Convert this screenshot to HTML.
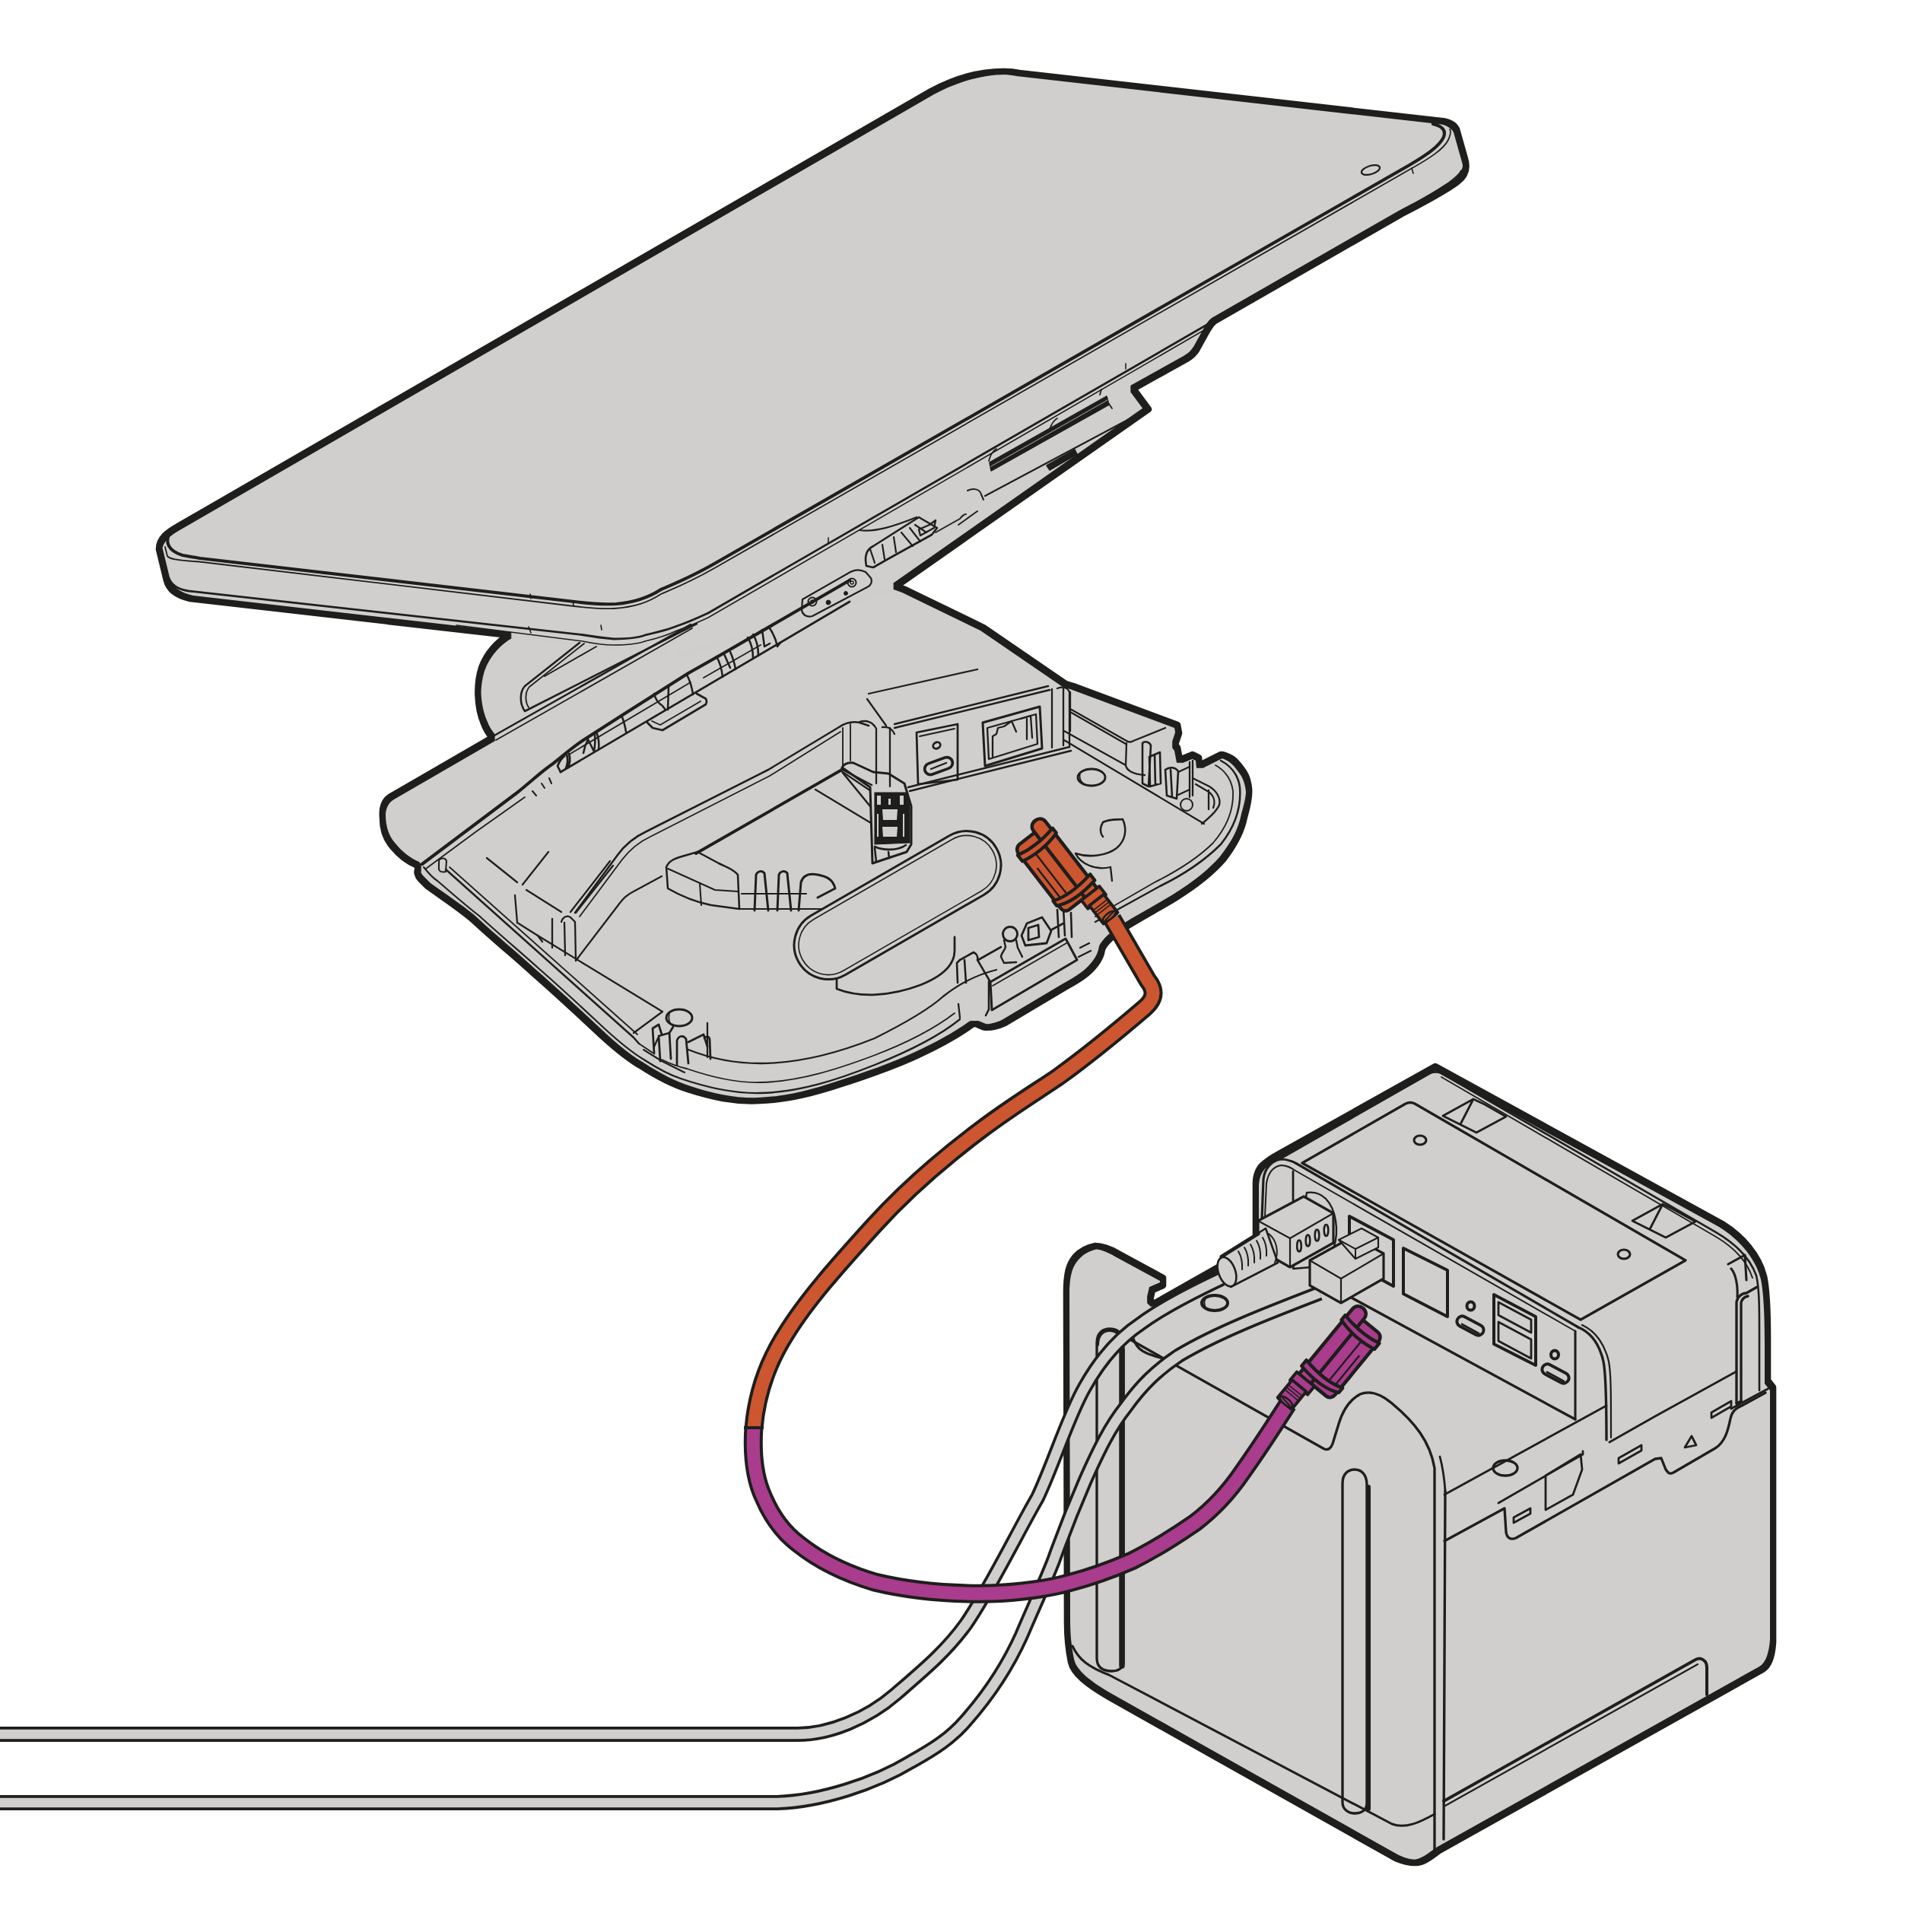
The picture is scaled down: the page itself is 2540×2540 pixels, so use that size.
<!DOCTYPE html>
<html><head><meta charset="utf-8"><title>Tablet stand and printer connection</title>
<style>
html,body{margin:0;padding:0;background:#fff;}
body{width:2540px;height:2540px;overflow:hidden;font-family:"Liberation Sans",sans-serif;}
svg{display:block;}
</style></head><body>
<svg xmlns="http://www.w3.org/2000/svg" width="2540" height="2540" viewBox="0 0 2540 2540">
<defs>
<filter id="er" x="0" y="0" width="2540" height="2540" filterUnits="userSpaceOnUse"><feMorphology operator="erode" radius="4.3"/></filter>
<path id="T" d="M 234,692 L 1224,120 C 1252,105 1287,93 1323,94 C 1330,94 1335,95 1340,96 L 1895,159 C 1905,160 1912,164 1915,170 L 1926,209 C 1929,219 1928,230 1916,239 C 1900,251 1880,262 1843,281 L 1597,422 C 1592,426 1590,430 1588,433 L 1573,460 C 1569,466 1565,469 1560,472 L 1490,511 L 1510,538 L 1175,773 L 900,860 L 669,835 L 250,787 C 232,783 222,775 219,763 L 209,722 C 209,708 220,700 234,692 Z"/>
<path id="B" d="M 669,835 C 655,843 640,858 633,878 C 626,900 627,930 636,951 C 639,959 643,965 647,970 L 514,1047 C 505,1052 502,1062 503,1075 C 503,1092 508,1104 516,1113 C 525,1124 535,1132 547,1137 L 550,1141 C 547,1146 549,1152 553,1156 L 562,1165 C 590,1185 610,1198 624,1211 C 650,1235 680,1260 702,1280 C 725,1300 750,1323 780,1351 C 800,1370 820,1388 842,1401 C 865,1416 885,1426 904,1432 C 935,1442 965,1449 1000,1447 C 1035,1446 1070,1437 1103,1426 C 1140,1414 1175,1402 1207,1387 C 1235,1374 1260,1360 1278,1347 C 1282,1344 1286,1348 1292,1350 C 1300,1352 1312,1349 1321,1345 L 1400,1298 C 1420,1287 1432,1279 1440,1268 C 1445,1262 1448,1255 1449,1248 C 1452,1240 1465,1228 1478,1220 C 1500,1206 1525,1193 1546,1180 C 1575,1162 1595,1145 1608,1130 C 1622,1112 1632,1095 1636,1074 C 1640,1060 1643,1048 1642,1037 C 1641,1027 1638,1018 1633,1012 C 1628,1005 1624,1000 1619,997 C 1614,994 1610,992 1605,992 L 1577,1006 L 1576,996 L 1568,992 L 1551,999 L 1548,983 L 1545,979 L 1550,964 L 1548,953 L 1411,902 L 1401,899 L 1293,825 L 1190,775 L 1165,766 L 1100,770 L 669,835 Z"/>
<path id="P" d="M 1887,1402 L 2264,1609 C 2290,1625 2312,1650 2319,1678 C 2322,1692 2324,1720 2324,1760 L 2324,1815 L 2331,1824 L 2331,2159 C 2330,2175 2326,2190 2317,2195 L 1892,2433 C 1882,2440 1872,2449 1861,2449 C 1850,2449 1842,2446 1835,2443 L 1458,2231 C 1430,2215 1411,2200 1408,2185 C 1404,2165 1403,2150 1403,2133 L 1402,1700 C 1402,1675 1405,1662 1414,1652 C 1422,1643 1430,1640 1440,1638 C 1450,1638 1460,1642 1470,1648 L 1529,1680 L 1529,1690 L 1515,1696 L 1512,1709 L 1517,1714 L 1651,1638 L 1651,1556 C 1651,1545 1655,1535 1662,1530 C 1668,1525 1674,1521 1678,1519 Z"/>
</defs>

<g fill="#1e1e1c" stroke="#1e1e1c" stroke-width="8.6" stroke-linejoin="round">
<use href="#B"/><use href="#T"/><use href="#P"/>
</g>
<g fill="#d0cfcd" filter="url(#er)">
<use href="#B"/><use href="#T"/><use href="#P"/>
</g>

<g fill="none" stroke="#1e1e1c" stroke-linejoin="round" stroke-linecap="round">
<!-- face boundary -->
<path stroke-width="4.2" d="M 222,703 C 218,712 220,724 240,730 L 263,734 L 755,791 C 770,793 790,795 810,794 C 835,792 852,786 869,775 C 890,766 910,758 941,740 L 1853,217 C 1875,204 1893,192 1898,180 C 1901,172 1897,166 1884,163"/>
<!-- bezel -->
<path stroke-width="1.8" d="M 217,719 L 220,731 C 222,735 235,737 262,738.5 L 755,797 C 772,799 790,801 807,800 C 835,798 852,792 869,781 C 890,772 910,764 941,746 L 1853,223 C 1880,208 1898,196 1904,184 C 1907,177 1908,172 1906,170"/>
<!-- side bottom edge -->
<path stroke-width="2.8" d="M 222,760 C 226,770 234,775 248,777 L 765,834.5 C 780,837 795,839 807,840 C 825,840 840,838 848,835 C 865,831 878,828 890,823 C 905,818 918,812 931,806 L 1000,766 L 1597,421"/>
<!-- bottom bevel -->
<path stroke-width="1.6" d="M 600,822 L 766,843 C 780,846 795,848 807,848 C 825,848 840,846 848,843 C 865,839 878,835 890,829 C 905,824 918,818 931,812 L 1000,772 L 1590,430"/>
<path stroke-width="1.6" d="M 1843,276 C 1870,262 1890,250 1905,240 C 1914,233 1919,229 1921,224"/>
<!-- small ticks -->
<path stroke-width="1.6" d="M 697,781 l 1,6 M 753,790 l 1,6 M 790,822 l 1,6 M 695,824 l 3,8 M 1089,707 l 0,7 M 1480,478 l 0,7 M 1856,221 l 2,7"/>
<!-- camera hole -->
<ellipse cx="1802" cy="223.5" rx="12.5" ry="5.5" transform="rotate(-17 1802 223.5)" stroke-width="2.2"/>
<!-- right side: tablet bottom near stand -->

<!-- stand arm lines under tablet -->
<path stroke-width="2.2" d="M 1295,652 L 1490,548"/>
<path stroke-width="2" d="M 1272,645 C 1280,641 1288,643 1290,650 L 1293,657"/>
<path fill="#1e1e1c" stroke-width="1.5" d="M 1301,608 L 1455,521 L 1458,532 L 1303,619 Z"/>
<path stroke="#d0cfcd" stroke-width="0.8" d="M 1303,613 L 1456,526"/>
<path stroke-width="1.8" d="M 1300,606 C 1302,598 1305,593 1310,590 M 1380,564 C 1383,556 1386,552 1390,550 M 1446,519 L 1448,512 M 1458,531 L 1462,537"/>
<path fill="#1e1e1c" stroke-width="1.5" d="M 1376,612 L 1413,591 L 1416,597 L 1380,618 Z"/>
<path stroke-width="2" d="M 1260,690 L 1285,672 M 1230,700 L 1262,682 C 1265,678 1268,676 1270,676"/>
<path stroke-width="2.4" d="M 1208,696 L 1222,690 L 1230,684 L 1228,694 L 1210,704 Z"/>
<path stroke-width="2.6" d="M 1139,744 C 1136,730 1140,722 1148,718 L 1208,680 L 1232,694 L 1225,703 L 1169,734 L 1148,746 Z"/>
<path stroke-width="2.2" d="M 1144,722 L 1150,740 M 1160,716 L 1163,735 M 1175,706 L 1178,726 M 1185,700 L 1200,718 M 1196,694 L 1210,712 M 1203,690 L 1218,700 M 1130,697 C 1150,700 1175,692 1205,680"/>
<!-- hinge plate w/ screws -->
<path stroke-width="2.2" d="M 1055,788 L 1118,752 C 1125,748 1132,749 1138,752 L 1145,760 C 1147,765 1145,770 1140,772 L 1068,810 C 1060,812 1055,808 1054,802 Z"/>
<circle cx="1068" cy="791" r="5.5" stroke-width="2"/><circle cx="1068" cy="791" r="2" stroke-width="1.5"/>
<circle cx="1120" cy="766" r="5.5" stroke-width="2"/><circle cx="1120" cy="766" r="2" stroke-width="1.5"/>
<circle cx="1089" cy="792" r="3" fill="#1e1e1c" stroke-width="1"/>
<circle cx="1112" cy="780" r="2.5" fill="#1e1e1c" stroke-width="1"/>
<!-- neck recess inner face -->
<path stroke-width="2" d="M 784,850 L 716,889"/>
</g>

<g fill="none" stroke="#1e1e1c" stroke-linejoin="round" stroke-linecap="round">
<!-- neck inner recess -->
<path stroke-width="2.53" d="M 762,845 L 690,902 C 683,910 683,925 690,935 L 916,820"/>
<path stroke-width="1.84" d="M 768,846 L 696,903 C 690,910 690,922 695,930"/>
<!-- flap top edge continuing (double) -->
<path stroke-width="2.53" d="M 648,968 L 908,821"/>
<path stroke-width="1.84" d="M 652,973 L 910,826"/>
<!-- fold / hinge barrel -->
<path stroke-width="4.2" d="M 555,1136 L 680,1042 C 700,1026 712,1014 727,1004 C 742,992 752,983 767,973 L 820,939 L 905,885 L 944,863 L 1117,763"/>
<path stroke-width="1.84" d="M 560,1142 L 625,1094 L 690,1048"/>
<path stroke-width="2.76" d="M 737,1015 L 1117,791"/>
<path stroke-width="1.84" d="M 748,992 L 908,897 M 925,891 L 1000,848"/>
<path stroke-width="2.76" d="M 737,1015 L 733,1007 C 736,1000 739,996 742,994 M 744,1010 C 746,1005 747,998 745,992 M 747,1009 C 749,1004 750,997 748,991"/>
<path stroke-width="2.53" d="M 767,990 C 768,984 770,978 773,972 L 781,988 C 782,982 783,976 782,966 M 787,985 C 788,978 787,970 784,962"/>
<path stroke-width="2.53" d="M 817,940 C 820,948 822,955 823,962"/>
<path stroke-width="2.53" d="M 860,912 C 862,920 866,925 871,928 L 874,932 M 879,903 L 878,933"/>
<path stroke-width="2.53" d="M 903,887 C 907,895 910,905 911,913"/>
<path stroke-width="2.53" d="M 942,863 C 947,872 949,880 950,890 M 952,860 L 960,878 M 960,857 C 964,866 966,873 967,880"/>
<path stroke-width="2.76" d="M 851,950 L 858,957 L 871,960 L 928,926 C 930,922 929,918 925,917 L 916,912"/>
<path stroke-width="1.84" d="M 857,948 L 868,953 L 921,922"/>
<path stroke-width="2.53" d="M 983,838 C 988,846 990,855 990,865 M 990,834 C 995,842 997,851 997,862 M 1002,828 L 1005,850 L 1012,846 M 1012,826 C 1016,832 1020,840 1022,850 L 1026,845"/>
<path stroke-width="2.07" d="M 700,1040 L 705,1046 M 712,1030 L 716,1036 M 722,1023 L 725,1030"/>
<!-- plateau ridge (double) -->
<path stroke-width="2.53" d="M 756,1200 L 812,1124 C 822,1110 835,1100 850,1093 L 1010,1012 L 1103,956 C 1112,950 1120,948 1130,950 L 1142,954"/>
<path stroke-width="1.84" d="M 762,1205 L 818,1130 C 828,1117 840,1107 855,1100 L 1012,1020 L 1105,962"/>
<path stroke-width="1.84" d="M 1108,957 L 1108,1008 M 1118,952 L 1118,1000"/>
<!-- inner ramp thick line -->
<path stroke-width="3.91" d="M 915,1122 L 1105,1013"/>
<path stroke-width="2.3" d="M 1072,1038 L 1145,1082 M 1105,1013 L 1145,1040"/>
<!-- flap underside faces -->
<path stroke-width="2.3" d="M 640,1128 L 680,1160 M 677,1177 L 680,1213 M 687,1163 L 721,1120 M 692,1170 L 738,1199 M 750,1199 L 802,1132 M 757,1200 L 806,1138"/>
<path stroke-width="2.3" d="M 680,1213 L 707,1230 L 871,1330 L 833,1358"/>
<path stroke-width="2.3" d="M 726,1208 L 726,1246 M 738,1212 C 740,1205 746,1203 750,1206 L 756,1212 L 757,1263 M 742,1213 L 743,1256 M 707,1230 L 713,1238"/>
<path stroke-width="2.3" d="M 757,1263 L 812,1191 C 820,1180 825,1176 833,1172 L 870,1152"/>
<path stroke-width="2.53" d="M 586,1143 L 833,1364 L 840,1372"/>
<path stroke-width="1.84" d="M 591,1140 L 838,1360"/>
<path stroke-width="2.07" d="M 557,1140 C 565,1150 570,1155 575,1158 C 595,1175 612,1190 630,1204 C 656,1228 686,1253 708,1273 C 731,1293 756,1316 786,1344 C 806,1363 826,1381 848,1394"/>
<path stroke-width="2.07" d="M 577,1131 L 577,1143 C 578,1146 582,1147 586,1146 L 587,1132 C 586,1128 580,1127 577,1131 Z"/>
<!-- latch box + clips -->
<path stroke-width="2.53" d="M 876,1140 C 880,1130 890,1128 900,1125 L 917,1120 L 945,1135 C 955,1140 965,1143 970,1150 L 972,1195 L 935,1190 C 910,1185 890,1175 878,1168 Z"/>
<path stroke-width="2.07" d="M 878,1142 L 940,1170 L 970,1172 M 920,1162 L 922,1190"/>
<path stroke-width="2.99" d="M 992,1197 L 994,1150 C 996,1145 1002,1144 1005,1148 L 1010,1197 M 1022,1197 L 1024,1150 C 1026,1145 1032,1144 1035,1148 L 1040,1197 M 1050,1197 L 1053,1160 C 1056,1150 1065,1148 1075,1150 C 1085,1152 1095,1155 1098,1168 L 1075,1180"/>
<path stroke-width="2.07" d="M 972,1195 L 1080,1195 M 975,1175 L 1060,1175"/>
<!-- clip column -->
<path fill="#d0cfcd" stroke-width="2.99" d="M 1107,1009 C 1110,1004 1115,1002 1122,1003 L 1148,1015 L 1168,1017 L 1189,1030 L 1192,1040 L 1198,1060 L 1198,1110 L 1192,1120 L 1147,1135 L 1144,1035 Z"/>
<path fill="#1e1e1c" stroke-width="1.15" d="M 1150,1042 L 1191,1042 L 1196,1060 L 1196,1108 L 1150,1110 Z"/>
<path fill="#d0cfcd" stroke="none" d="M 1160,1064 L 1180,1064 L 1179,1078 L 1161,1078 Z M 1160,1087 L 1180,1087 L 1179,1100 L 1161,1100 Z M 1153,1046 L 1158,1046 L 1158,1058 L 1153,1058 Z M 1168,1050 L 1171,1050 L 1171,1058 L 1168,1058 Z M 1183,1046 L 1188,1046 L 1188,1058 L 1183,1058 Z M 1153,1070 L 1155,1070 L 1155,1100 L 1153,1100 Z M 1187,1070 L 1189,1070 L 1189,1100 L 1187,1100 Z"/>
<path stroke-width="2.53" d="M 1150,1113 C 1160,1118 1180,1119 1191,1111 M 1106,1011 L 1146,1032 M 1108,1016 L 1144,1060 M 1150,1115 L 1152,1133 M 1168,1120 L 1169,1128"/>
<!-- port wall -->
<path stroke-width="2.3" d="M 1142,912 L 1285,880 M 1140,919 L 1165,954"/>
<path stroke-width="2.53" d="M 1176,957 L 1380,907 M 1176,952 L 1378,902"/>
<path stroke-width="2.53" d="M 1194,1035 L 1406,982 M 1196,1040 L 1408,987"/>
<path stroke-width="2.3" d="M 1130,949 C 1140,946 1148,950 1152,958 L 1152,1030 M 1170,957 L 1170,1034 M 1160,956 C 1168,955 1173,958 1176,965"/>
<path stroke-width="2.3" d="M 1383,906 L 1383,983 M 1398,905 L 1398,980 M 1390,905 C 1398,902 1404,904 1406,910 L 1406,982"/>
<!-- DC jack -->
<path stroke-width="2.76" d="M 1205,963 L 1259,952 L 1259,1025 L 1207,1031 Z"/>
<path stroke-width="1.84" d="M 1209,968 L 1255,958"/>
<ellipse cx="1231.5" cy="980" rx="5" ry="4" transform="rotate(-30 1231.5 980)" stroke-width="2.76"/>
<rect x="-19" y="-7.5" width="38" height="15" rx="7.5" transform="translate(1234,1007) rotate(-20)" stroke-width="3.68"/>
<path stroke-width="2.3" d="M 1224,1011 L 1244,1003"/>
<!-- RJ45 jack -->
<path stroke-width="2.99" d="M 1292,950 L 1367,929 L 1370,984 L 1295,1007 Z"/>
<path stroke-width="2.3" d="M 1298,957 L 1362,939 L 1364,978 L 1300,998 Z"/>
<path stroke-width="2.3" d="M 1305,995 L 1305,968 L 1310,965 L 1312,957 L 1320,955 L 1330,948 L 1336,962 M 1342,945 L 1355,941 L 1357,970 M 1350,945 L 1350,972"/>
<!-- right section -->
<path stroke-width="2.3" d="M 1407,932 L 1481,974 C 1484,976 1487,976 1490,974 L 1532,957 M 1407,936 L 1480,978 M 1407,910 L 1407,961"/>
<path stroke-width="2.3" d="M 1481,977 L 1480,1006 C 1481,1013 1490,1018 1505,1019 M 1399,961 L 1480,1006"/>
<path stroke-width="2.3" d="M 1399,973 L 1583,1083"/>
<ellipse cx="1435" cy="1022" rx="18" ry="11" stroke-width="2.9"/>
<path stroke-width="1.84" d="M 1420,1017 C 1418,1024 1422,1030 1428,1032"/>
<!-- right wing clips -->
<path stroke-width="2.6" d="M 1502,977 L 1502,1030 L 1510,1034 L 1513,980 C 1511,975 1505,974 1502,977 Z"/>
<path stroke-width="2.6" d="M 1511,995 L 1525,989 L 1526,1030 L 1512,1034 Z M 1518,992 L 1519,1032"/>
<path stroke-width="2.6" d="M 1532,1012 L 1534,1046 L 1547,1050 L 1549,1014 C 1545,1008 1537,1008 1532,1012 Z M 1539,1012 L 1541,1048"/>
<path stroke-width="2.3" d="M 1549,1015 L 1564,1008 M 1549,1045 L 1564,1038"/>
<path stroke-width="2.3" d="M 1564,1002 L 1564,1048 M 1568,1000 L 1568,1046"/>
<path stroke-width="2.3" d="M 1568,1023 L 1590,1034 C 1600,1040 1605,1050 1603,1058 C 1600,1066 1590,1075 1580,1083 M 1572,1031 L 1589,1041 C 1596,1046 1598,1054 1595,1062 M 1589,1039 L 1589,1064"/>
<circle cx="1560" cy="1058" r="8" stroke-width="2"/>
<!-- right rim (double) -->
<path stroke-width="2.53" d="M 1605,1000 C 1620,1008 1628,1020 1630,1035 C 1632,1060 1625,1085 1605,1110 C 1585,1130 1560,1148 1525,1165 L 1440,1212"/>
<path stroke-width="1.84" d="M 1598,1006 C 1612,1014 1619,1025 1621,1040 C 1622,1062 1615,1085 1595,1108 C 1575,1128 1550,1144 1518,1160 L 1440,1205"/>
<!-- base bottom rim (double lines along front) -->
<path stroke-width="2.3" d="M 848,1394 C 865,1405 880,1413 895,1418 C 930,1430 965,1438 1000,1437 C 1050,1436 1100,1420 1150,1400 C 1200,1380 1235,1362 1262,1340"/>
<path stroke-width="1.84" d="M 870,1393 C 880,1398 890,1402 903,1405 C 935,1416 968,1424 1000,1423 C 1050,1422 1100,1406 1148,1388 C 1190,1372 1225,1355 1255,1332"/>
<path stroke-width="2.3" d="M 905,1380 C 935,1392 965,1398 1000,1398 C 1050,1398 1100,1385 1150,1365 C 1190,1345 1220,1328 1240,1310 C 1265,1290 1290,1280 1310,1275"/>
<path stroke-width="2.3" d="M 930,1345 L 930,1390 M 1260,1320 L 1262,1338 M 860,1376 L 865,1365"/>
<!-- bottom-left hole & clips -->
<ellipse cx="893" cy="1338" rx="17" ry="11" stroke-width="2.99"/>
<path stroke-width="1.84" d="M 880,1332 C 878,1340 880,1346 884,1348"/>
<path stroke-width="2.76" d="M 860,1385 L 858,1352 L 866,1347 L 870,1360 M 868,1395 L 866,1362 L 880,1358 L 882,1392 M 890,1400 L 890,1368 C 892,1362 898,1360 902,1366 L 905,1398 M 880,1358 L 885,1350 M 905,1370 L 925,1360 L 930,1376 M 926,1365 C 928,1362 932,1362 933,1366 L 934,1392"/>
<path stroke-width="2.07" d="M 840,1372 L 858,1384 M 846,1380 L 870,1395 L 900,1410"/>
<!-- oval pad -->
<path stroke-width="2.76" d="M 1100,1280 L 1100,1300 C 1130,1312 1170,1310 1210,1295 C 1240,1283 1255,1268 1255,1250 L 1255,1232"/>
<rect x="-150" y="-45" width="300" height="90" rx="45" transform="translate(1180,1190) rotate(-30)" fill="#d0cfcd" stroke-width="2.99"/>
<rect x="-144" y="-39" width="288" height="78" rx="39" transform="translate(1180,1190) rotate(-30)" stroke-width="1.61"/>
<!-- C-clip arc near connector -->
<path stroke-width="2.53" d="M 1450,1081 C 1460,1076 1470,1078 1476,1077 C 1482,1090 1480,1105 1468,1115 C 1455,1125 1432,1128 1414,1122 M 1450,1081 C 1446,1088 1446,1095 1450,1100"/>
<path stroke-width="2.3" d="M 1414,1122 C 1420,1135 1440,1145 1460,1140 M 1460,1140 L 1462,1158"/>
<!-- bottom right clip box near cable exit -->
<path fill="#d0cfcd" stroke-width="3" d="M 1302,1291 L 1401,1234 L 1416,1262 L 1304,1328 Z"/>
<path stroke-width="1.8" d="M 1305,1296 L 1402,1240"/>
<path stroke-width="2.6" d="M 1262,1262 L 1280,1252 C 1284,1254 1286,1258 1285,1262 L 1302,1291 M 1286,1262 L 1316,1245 M 1262,1262 L 1258,1266 L 1259,1292 M 1268,1262 L 1270,1292 M 1300,1290 L 1300,1327 L 1296,1335"/>
<circle cx="1328" cy="1228" r="9.5" stroke-width="2.8"/>
<path stroke-width="2.4" d="M 1320,1236 L 1322,1245 C 1321,1250 1316,1253 1316,1258 L 1320,1266 L 1336,1265 M 1336,1236 L 1338,1246 L 1344,1258"/>
<path stroke-width="2.8" d="M 1343,1230 L 1350,1214 L 1370,1206 L 1382,1224 L 1376,1240 L 1348,1243 Z M 1352,1220 L 1365,1216 L 1366,1232 L 1352,1236 Z"/>
<path stroke-width="2.6" d="M 1390,1196 L 1392,1232 M 1398,1194 L 1400,1230 M 1408,1200 L 1409,1232 M 1383,1222 L 1398,1214"/>
<path stroke-width="2.4" d="M 1418,1258 L 1434,1250 M 1420,1246 L 1432,1240"/>
</g>

<g fill="none" stroke="#1e1e1c" stroke-linejoin="round" stroke-linecap="round">
<!-- top rim inner line -->
<path stroke-width="2.6" d="M 1684,1523 L 1880,1411 C 1885,1409 1890,1409 1895,1411 L 2256,1620 C 2280,1634 2300,1652 2309,1677 C 2313,1694 2313,1720 2313,1750 L 2313,1828"/>
<path stroke-width="1.96" d="M 1895,1416 L 2256,1626 C 2278,1639 2296,1656 2304,1680"/>
<path stroke-width="3.36" d="M 2283,1845 L 2283,1712 C 2284,1705 2290,1700 2296,1700 L 2310,1692 M 2289,1842 L 2289,1713 C 2290,1708 2293,1705 2298,1704"/>
<path stroke-width="3.08" d="M 2276,1852 L 2324,1826 M 2283,1845 L 2289,1842 M 2272,1662 L 2294,1650 L 2296,1683 M 2276,1668 C 2282,1675 2285,1690 2284,1705"/>
<!-- top panel -->
<path stroke-width="3.36" d="M 1712,1529 L 1848,1451 C 1852,1449 1856,1449 1860,1451 L 2216,1657 L 2078,1735 Z"/>
<ellipse cx="1867" cy="1499" rx="8" ry="6" stroke-width="3.08"/>
<ellipse cx="2135" cy="1649" rx="8" ry="6" stroke-width="3.08"/>
<!-- tabs -->
<path stroke-width="2.8" d="M 1897,1467 L 1937,1445 L 1952,1452 L 1980,1468 L 1941,1489 Z M 1937,1445 L 1920,1478"/>
<path stroke-width="2.8" d="M 2146,1605 L 2186,1583 L 2200,1590 L 2229,1606 L 2190,1627 Z M 2186,1583 L 2169,1616"/>
<!-- back face top edge (double) -->
<path stroke-width="3.2" d="M 1659,1602 L 1661,1550 C 1663,1535 1672,1526 1684,1524 C 1692,1524 1698,1526 1705,1530 L 2075,1745"/>
<path stroke-width="2" d="M 1663,1598 L 1665,1556 C 1667,1542 1674,1534 1684,1532 C 1692,1532 1697,1535 1703,1539 L 2071,1750"/>
<!-- back face bottom edge -->
<path stroke-width="3.36" d="M 1760,1697 L 2071,1866"/>
<path stroke-width="3.08" d="M 2071,1750 L 2071,1866"/>
<!-- right rounded column -->
<path stroke-width="3.36" d="M 2075,1745 C 2092,1752 2103,1768 2108,1790 C 2111,1805 2112,1830 2112,1893"/>
<path stroke-width="2.24" d="M 2080,1742 C 2098,1750 2110,1768 2115,1790 C 2118,1805 2118,1830 2118,1890"/>
<!-- back face left -->
<path stroke-width="2.8" d="M 1700,1540 L 1700,1578"/>
<!-- ports -->
<path stroke-width="4.0" d="M 1774,1599 L 1832,1630 L 1832,1691 L 1774,1659 Z"/>
<path stroke-width="4.0" d="M 1845,1641 L 1903,1670 L 1903,1731 L 1845,1701 Z"/>
<ellipse cx="1933.5" cy="1717" rx="5" ry="5.5" stroke-width="4.0"/>
<rect x="-19" y="-7" width="38" height="14" rx="7" transform="translate(1933,1743) rotate(28)" stroke-width="4.0"/>
<path stroke-width="2.8" d="M 1922,1741 L 1944,1753"/>
<path stroke-width="4.0" d="M 1964,1702 L 2019,1731 L 2019,1795 L 1964,1767 Z"/>
<path stroke-width="2.8" d="M 1970,1712 L 2013,1735 L 2013,1752 L 1970,1729 Z M 1970,1738 L 2013,1761 L 2013,1786 L 1970,1763 Z"/>
<ellipse cx="2044" cy="1781" rx="5" ry="5.5" stroke-width="4.0"/>
<rect x="-19" y="-7" width="38" height="14" rx="7" transform="translate(2045,1806) rotate(28)" stroke-width="4.0"/>
<path stroke-width="2.8" d="M 2034,1804 L 2056,1816"/>
<!-- holder: left panel top edge -->
<path stroke-width="3.36" d="M 1475,1755 L 1741,1905 C 1746,1907 1750,1904 1752,1898 L 1760,1872 C 1766,1852 1775,1840 1788,1833 C 1800,1828 1815,1832 1830,1845 C 1860,1870 1880,1895 1886,1930 L 1886,2433"/>
<path stroke-width="3.36" d="M 1900,1960 L 1898,2418"/>
<path stroke-width="2.8" d="M 1893,1915 C 1897,1930 1899,1945 1900,1960"/>
<!-- front slot -->
<path stroke-width="3.36" d="M 1765,2370 L 1765,1950 C 1765,1938 1772,1932 1781,1932 C 1791,1932 1797,1940 1797,1952 L 1797,2370 C 1797,2380 1790,2384 1781,2384 C 1772,2384 1765,2378 1765,2370 Z"/>
<path stroke-width="6.0" d="M 1799,1955 L 1799,2378"/>
<!-- wing slot -->
<path stroke-width="3.36" d="M 1442,2180 L 1442,1765 C 1442,1752 1450,1747 1459,1747 C 1468,1747 1476,1752 1477,1762 L 1477,2185 C 1477,2193 1470,2197 1462,2197 C 1450,2197 1442,2192 1442,2180 Z"/>
<path stroke-width="7.5" d="M 1475,1775 L 1475,2190"/>
<path stroke-width="4.0" d="M 1443,1768 C 1443,1755 1450,1749 1459,1749 C 1466,1749 1470,1752 1473,1757"/>
<ellipse cx="1597" cy="1713" rx="17" ry="10" stroke-width="4.0"/>
<path stroke-width="2.24" d="M 1585,1706 C 1582,1712 1583,1718 1587,1721"/>
<path stroke-width="3.36" d="M 1490,1760 C 1495,1775 1505,1780 1530,1786"/>
<!-- bottom inner bevel -->
<path stroke-width="3.08" d="M 1410,2164 C 1418,2182 1432,2192 1458,2202 L 1830,2398 C 1848,2405 1868,2395 1886,2385"/>
<!-- right face bottom recess -->
<path stroke-width="4.0" d="M 1898,2368 L 2229,2182 C 2236,2178 2244,2183 2244,2192 L 2244,2228"/>
<path stroke-width="2.24" d="M 1900,2374 L 2232,2188"/>
<!-- holder right top edge w/ tabs -->
<path stroke-width="3.36" d="M 1899,2026 L 1978,1983 L 1980,2014 C 1981,2022 1986,2025 1993,2022 L 2176,1918 L 2184,1917 L 2190,1932 C 2194,1938 2196,1938 2200,1936 L 2255,1904 C 2268,1896 2272,1880 2275,1865 C 2277,1856 2281,1852 2290,1848 L 2321,1831"/>
<path stroke-width="2.8" d="M 1970,1976 L 2081,1912 L 2081,1908 M 2116,1896 L 2176,1862 L 2283,1803"/>
<path stroke-width="2.8" d="M 1899,1965 L 2112,1848"/>
<path stroke-width="2.8" d="M 2032,1940 L 2078,1912 L 2080,1932 L 2068,1965 L 2032,1985 Z"/>
<ellipse cx="1979" cy="1930" rx="16" ry="10" stroke-width="3.36"/>
<path stroke-width="2.8" d="M 1990,1995 L 2012,1983 L 2012,1990 L 1990,2002 Z M 2128,1917 L 2158,1900 L 2158,1907 L 2128,1924 Z M 2250,1857 L 2276,1842 L 2276,1849 L 2250,1864 Z"/>
<path stroke-width="2.8" d="M 2215,1903 L 2224,1888 L 2230,1900 Z"/>
</g>

<defs>
<path id="cA" d="M -10,2280 L 1049,2280 C 1090,2280 1140,2260 1178,2227 C 1215,2195 1245,2170 1270,2135 C 1300,2092 1340,2010 1364,1969 C 1385,1925 1405,1860 1426,1824 C 1445,1790 1470,1760 1500,1740 C 1530,1718 1570,1698 1606,1681"/>
<path id="cB" d="M -10,2370 L 1022,2370 C 1080,2368 1150,2345 1198,2316 C 1230,2298 1250,2285 1270,2262 C 1300,2228 1325,2190 1343,2150 C 1360,2110 1372,2085 1385,2052 C 1400,2010 1410,1985 1426,1948 C 1445,1905 1460,1875 1480,1850 C 1500,1822 1520,1802 1550,1782 C 1600,1752 1670,1725 1735,1700"/>
<path id="cO" d="M 1462,1208 L 1509,1289 C 1518,1300 1520,1312 1505,1325 C 1470,1355 1420,1395 1391,1416 C 1360,1437 1330,1455 1290,1485 C 1250,1515 1200,1555 1150,1610 C 1100,1665 1060,1710 1033,1754 C 1010,1790 995,1830 991,1878"/>
<path id="cM" d="M 991,1876 C 988,1920 995,1950 1004,1969 C 1015,1995 1030,2015 1050,2030 C 1075,2050 1110,2068 1150,2080 C 1200,2092 1250,2096 1302,2095 C 1340,2094 1380,2088 1405,2081 C 1440,2072 1465,2062 1488,2052 C 1520,2036 1545,2020 1571,2002 C 1600,1980 1620,1955 1633,1936 C 1650,1912 1665,1890 1693,1846"/>
</defs>
<g fill="none" stroke-linecap="butt" stroke-linejoin="round">
<use href="#cA" stroke="#1e1e1c" stroke-width="20"/>
<use href="#cA" stroke="#d0cfcd" stroke-width="12.5"/>
<use href="#cB" stroke="#1e1e1c" stroke-width="20"/>
<use href="#cB" stroke="#d0cfcd" stroke-width="12.5"/>
<use href="#cO" stroke="#1e1e1c" stroke-width="25"/>
<use href="#cO" stroke="#cc5630" stroke-width="17"/>
<use href="#cM" stroke="#1e1e1c" stroke-width="25"/>
<use href="#cM" stroke="#a93c8c" stroke-width="17"/>
<line x1="978" y1="1877" x2="1004" y2="1877" stroke="#1e1e1c" stroke-width="4"/>
</g>

<g stroke="#1e1e1c" stroke-linejoin="round" stroke-linecap="round">
<!-- power plug: collar behind -->
<path fill="#d0cfcd" stroke-width="2.4" d="M 1718,1568 C 1738,1565 1752,1580 1756,1605 C 1760,1630 1752,1655 1735,1665 L 1700,1668 Z"/>
<!-- box -->
<path fill="#d0cfcd" stroke-width="3.2" d="M 1654,1605 L 1714,1573 L 1753,1595 L 1753,1634 L 1696,1666 L 1654,1642 Z"/>
<path fill="none" stroke-width="2.2" d="M 1654,1605 L 1696,1628 L 1753,1595 M 1696,1628 L 1696,1666"/>
<g fill="none" stroke-width="2.6"><ellipse cx="1708" cy="1638" rx="2.8" ry="7.5"/><ellipse cx="1719.5" cy="1631" rx="2.8" ry="7.5"/><ellipse cx="1731.5" cy="1624" rx="2.8" ry="7.5"/><ellipse cx="1743.5" cy="1617.5" rx="2.8" ry="7.5"/></g>
<!-- cylinder strain relief -->
<path fill="#d0cfcd" stroke-width="2.6" d="M 1664,1615 L 1608,1650 L 1618,1692 L 1680,1660 Z"/>
<ellipse cx="1613" cy="1672" rx="11" ry="20" transform="rotate(-20 1613 1672)" fill="#d0cfcd" stroke-width="2.6"/>
<path fill="none" stroke-width="2" d="M 1628,1645 q 6,10 5,24 M 1636,1640 q 6,10 5,24 M 1644,1636 q 6,10 5,24 M 1652,1631 q 6,10 5,24 M 1660,1627 q 6,10 5,24"/>
<path fill="none" stroke-width="2" d="M 1668,1622 C 1678,1630 1682,1645 1676,1660"/>
<!-- power plug top silhouette -->
<path fill="none" stroke-width="5" d="M 1606,1652 L 1654,1622"/>
<!-- RJ45 plug -->
<path fill="#d0cfcd" stroke-width="3.2" d="M 1722,1657 L 1778,1626 L 1819,1648 L 1819,1681 L 1763,1713 L 1722,1690 Z"/>
<path fill="none" stroke-width="2.2" d="M 1722,1657 L 1763,1681 L 1819,1648 M 1763,1681 L 1763,1713"/>
<path fill="#d0cfcd" stroke-width="2.2" d="M 1760,1630 L 1790,1615 L 1812,1627 L 1812,1640 L 1782,1655 Z"/>
<path fill="none" stroke-width="2" d="M 1760,1630 L 1782,1642 L 1812,1627 M 1782,1642 L 1782,1655"/>
</g>
<defs>
<g id="conn" stroke="#1e1e1c" stroke-linejoin="round" stroke-linecap="round">
<path stroke-width="4.6" d="M 42,-10 L 42,-36 C 42,-41 46,-44 51,-44 L 140,-44 C 146,-44 150,-40 150,-35 L 150,-8 Z"/>
<path stroke-width="4.6" d="M 0,-10 L 152,-10 C 158,-10 162,-6 162,0 C 162,6 158,10 152,10 L 0,10 Z"/>
<path fill="none" stroke-width="2.4" d="M 58,-10 L 140,-10 M 60,-26 L 138,-26 M 60,-36 L 110,-36"/>
<path stroke-width="4.4" d="M 130,-46 C 126,-30 126,-8 132,12 L 140,12 C 136,-8 136,-30 140,-46 Z"/>
<path stroke-width="4.4" d="M 56,-46 C 48,-30 48,-8 52,14 L 62,14 C 58,-8 58,-30 64,-46 Z"/>
<path stroke-width="4" d="M 28,-16 L 42,-16 L 42,14 L 28,14 Z"/>
<path stroke-width="4" d="M 0,-12 L 30,-12 L 30,12 L 0,12 Z"/>
<path fill="none" stroke-width="1.6" d="M 14,-11 L 14,11 M 18,-11 L 18,11 M 22,-11 L 22,11"/>
<ellipse cx="3" cy="0" rx="4" ry="10" stroke-width="2.6"/>
<path fill="none" stroke-width="2" d="M 2,-7 L 4,7"/>
</g>
</defs>
<use href="#conn" fill="#a93c8c" transform="translate(1689,1845) rotate(-50.6) scale(1,-1)"/>
<use href="#conn" fill="#cc5630" transform="translate(1460,1207) rotate(-127.7)"/>

</svg>
</body></html>
